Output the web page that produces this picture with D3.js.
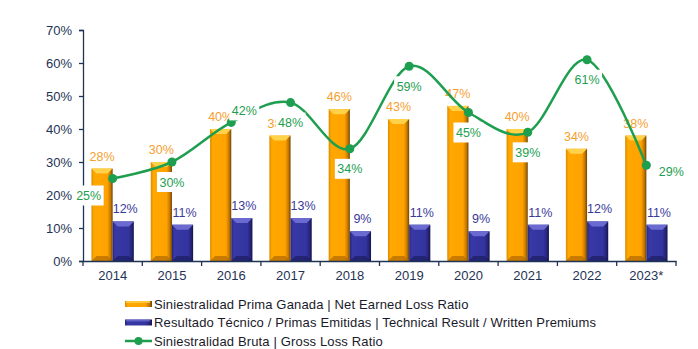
<!DOCTYPE html>
<html>
<head>
<meta charset="utf-8">
<script src="https://cdn.jsdelivr.net/npm/d3@7"></script>
<style>
  body { margin: 0; background: #fff; }
  svg { display: block; font-family: "Liberation Sans", Arial, sans-serif; }
</style>
</head>
<body>
<div id="chart"></div>
<script>
// Loss ratios by year
const years = ["2014", "2015", "2016", "2017", "2018", "2019", "2020", "2021", "2022", "2023*"];
const netEarned = [28, 30, 40, 38, 46, 43, 47, 40, 34, 38];
const technical = [12, 11, 13, 13, 9, 11, 9, 11, 12, 11];
const gross = [25, 30, 42, 48, 34, 59, 45, 39, 61, 29];
const yTicks = [0, 10, 20, 30, 40, 50, 60, 70];
// where each gross label sits relative to its point
const grossLabelPos = ["left", "below", "aboveRight", "below", "below", "below", "below", "below", "below", "right"];

const seriesNames = [
    "Siniestralidad Prima Ganada | Net Earned Loss Ratio",
    "Resultado Técnico / Primas Emitidas | Technical Result / Written Premiums",
    "Siniestralidad Bruta | Gross Loss Ratio"
];

const W = 698, H = 349;
const margin = {top: 30, right: 22, bottom: 88, left: 83};
const width = W - margin.left - margin.right;
const height = H - margin.top - margin.bottom;

const axisColor = "#1f3355";
const green = "#1e9e4f";

const root = d3.select("#chart").append("svg")
    .attr("width", W)
    .attr("height", H);

// Gradients for the bevelled bars
const defs = root.append("defs");
function barGradient(id, stops) {
    const g = defs.append("linearGradient").attr("id", id)
        .attr("x1", "0%").attr("x2", "100%").attr("y1", "0%").attr("y2", "0%");
    stops.forEach(s => g.append("stop").attr("offset", s[0]).attr("stop-color", s[1]));
}
barGradient("gOrange", [["0%", "#d98a00"], ["12%", "#ffa800"], ["75%", "#ffa200"], ["90%", "#c47800"], ["100%", "#6e4200"]]);
barGradient("gBlue", [["0%", "#28287a"], ["12%", "#3838a6"], ["75%", "#3434a0"], ["90%", "#25257a"], ["100%", "#14144a"]]);

const svg = root.append("g")
    .attr("transform", `translate(${margin.left},${margin.top})`);

// Scales
const x = d3.scaleBand().domain(years).range([0, width]).padding(0);
const x1 = d3.scaleBand().domain(["net", "tech"]).range([0, x.bandwidth()])
    .paddingInner(0).paddingOuter(0.4);
const y = d3.scaleLinear().domain([0, 70]).range([height, 0]);

// Y axis
const yAxis = svg.append("g")
    .call(d3.axisLeft(y).tickValues(yTicks).tickFormat(d => d + "%").tickSize(4).tickPadding(7));
yAxis.selectAll("line, path").attr("stroke", axisColor).attr("stroke-width", 1.3);
yAxis.selectAll("text").attr("fill", axisColor).style("font-size", "13px");

// Bars
function drawBar(g, x0, bw, v, fillId, topColor, bottomColor) {
    const yt = y(v), yb = y(0);
    const bev = Math.min(5, (yb - yt) / 2);
    g.append("rect")
        .attr("x", x0).attr("y", yt)
        .attr("width", bw).attr("height", yb - yt)
        .attr("fill", `url(#${fillId})`);
    g.append("path")
        .attr("d", `M${x0},${yt}L${x0 + bw},${yt}L${x0 + bw - bev},${yt + bev}L${x0 + bev},${yt + bev}Z`)
        .attr("fill", topColor);
    g.append("path")
        .attr("d", `M${x0},${yb}L${x0 + bw},${yb}L${x0 + bw - bev},${yb - bev}L${x0 + bev},${yb - bev}Z`)
        .attr("fill", bottomColor).attr("opacity", 0.7);
}

const bars = svg.append("g");
years.forEach((yr, i) => {
    drawBar(bars, x(yr) + x1("net"), x1.bandwidth(), netEarned[i], "gOrange", "#ffd24a", "#b06a00");
    drawBar(bars, x(yr) + x1("tech"), x1.bandwidth(), technical[i], "gBlue", "#6a6ad0", "#1c1c60");
});

// X axis
const xAxis = svg.append("g")
    .attr("transform", `translate(0,${height})`)
    .call(d3.axisBottom(x).tickSize(0).tickPadding(10));
xAxis.select("path").attr("stroke", axisColor).attr("stroke-width", 1.3);
xAxis.selectAll("text").attr("fill", axisColor).style("font-size", "13px");
svg.append("g").selectAll("line")
    .data(years.concat([null]))
    .join("line")
    .attr("x1", (d, i) => i * x.step()).attr("x2", (d, i) => i * x.step())
    .attr("y1", height).attr("y2", height + 5)
    .attr("stroke", axisColor).attr("stroke-width", 1.3);

// Bar value labels
svg.append("g").selectAll("text")
    .data(netEarned)
    .join("text")
    .attr("x", (d, i) => x(years[i]) + x1("net") + x1.bandwidth() / 2)
    .attr("y", d => y(d) - 8)
    .attr("text-anchor", "middle")
    .attr("fill", "#f5a030")
    .style("font-size", "12.5px")
    .text(d => d + "%");

svg.append("g").selectAll("text")
    .data(technical)
    .join("text")
    .attr("x", (d, i) => x(years[i]) + x1("tech") + x1.bandwidth() / 2 + 2)
    .attr("y", d => y(d) - 8)
    .attr("text-anchor", "middle")
    .attr("fill", "#3a3a9a")
    .style("font-size", "12.5px")
    .text(d => d + "%");

// Gross loss ratio line
const cx = i => x(years[i]) + x.bandwidth() / 2;
const line = d3.line()
    .x((d, i) => cx(i))
    .y(d => y(d))
    .curve(d3.curveCardinal.tension(0));

svg.append("path")
    .datum(gross)
    .attr("fill", "none")
    .attr("stroke", green)
    .attr("stroke-width", 2.5)
    .attr("d", line);

svg.append("g").selectAll("circle")
    .data(gross)
    .join("circle")
    .attr("cx", (d, i) => cx(i))
    .attr("cy", d => y(d))
    .attr("r", 4.5)
    .attr("fill", green);

// Gross labels on white boxes
const offsets = {
    below: [0, 20],
    left: [-24, 17],
    aboveRight: [13, -12],
    right: [25, 6]
};
const gLabels = svg.append("g").selectAll("g")
    .data(gross)
    .join("g")
    .attr("transform", (d, i) => {
        const o = offsets[grossLabelPos[i]];
        return `translate(${cx(i) + o[0]},${y(d) + o[1]})`;
    });
gLabels.append("rect")
    .attr("x", -15).attr("y", -10)
    .attr("width", 30).attr("height", 20)
    .attr("fill", "#fff");
gLabels.append("text")
    .attr("text-anchor", "middle")
    .attr("dy", "0.36em")
    .attr("fill", green)
    .style("font-size", "12.5px")
    .text(d => d + "%");

// Legend
const legend = root.append("g")
    .attr("transform", "translate(125,304)");
const rowH = 18.5;

[["gOrange", "#ffd24a"], ["gBlue", "#6a6ad0"]].forEach((s, i) => {
    const r = legend.append("g").attr("transform", `translate(0,${i * rowH})`);
    r.append("rect").attr("x", 0).attr("y", -3).attr("width", 27).attr("height", 6)
        .attr("fill", `url(#${s[0]})`);
    r.append("rect").attr("x", 1).attr("y", -3).attr("width", 24).attr("height", 2)
        .attr("fill", s[1]).attr("opacity", 0.8);
});
const lg = legend.append("g").attr("transform", `translate(0,${2 * rowH})`);
lg.append("line").attr("x1", 0).attr("x2", 27).attr("stroke", green).attr("stroke-width", 2.5);
lg.append("circle").attr("cx", 13.5).attr("r", 4).attr("fill", green);

legend.selectAll("text.lbl")
    .data(seriesNames)
    .join("text")
    .attr("class", "lbl")
    .attr("x", 29)
    .attr("y", (d, i) => i * rowH)
    .attr("dy", "0.36em")
    .attr("fill", "#1a1a2a")
    .style("font-size", "13px")
    .style("letter-spacing", "0.15px")
    .text(d => d);
</script>
</body>
</html>
